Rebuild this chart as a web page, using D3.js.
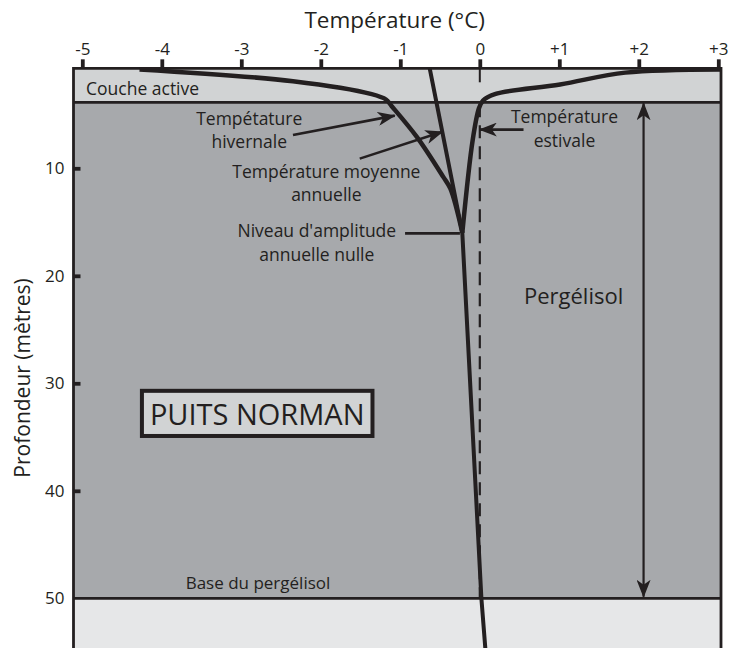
<!DOCTYPE html>
<html>
<head>
<meta charset="utf-8">
<script src="https://cdn.jsdelivr.net/npm/d3@7"></script>
<style>
  body { margin: 0; background: #fff; }
  text { font-family: "Open Sans", "Noto Sans", sans-serif; fill: #231f20; }
</style>
</head>
<body>
<svg id="chart" width="729" height="648"></svg>
<script>
// Temperature ticks along the top
const tempTicks = [-5, -4, -3, -2, -1, 0, 1, 2, 3];
const depthTicks = [10, 20, 30, 40, 50];

// Layers (depth in metres)
const layerNames = ["Couche active", "Pergélisol", "Sous le pergélisol"];
const layerTop = [0.7, 3.86, 50];
const layerBottom = [3.86, 50, 54.7];
const layerFill = ["#d1d3d4", "#a7a9ac", "#e6e7e8"];

// Temperature profiles (°C vs depth m)
const winterT = [-4.28, -2.35, -1.36, -1.18, -1.11, -0.79, -0.46, -0.37, -0.22];
const winterDepth = [0.8, 1.9, 3.1, 3.6, 4.2, 7.1, 10.8, 11.9, 16.0];
const summerT = [3.03, 1.83, 1.01, 0.19, 0.04, -0.01, -0.09, -0.22];
const summerDepth = [0.8, 1.1, 2.2, 3.1, 3.7, 4.4, 7.4, 16.0];
const meanT = [-0.63, -0.22, 0.02, 0.07];
const meanDepth = [0.7, 16.0, 50, 54.7];

const svg = d3.select("#chart");
const ink = "#231f20";

const x = d3.scaleLinear().domain([-5, 3]).range([82.3, 718.3]);
const y = d3.scaleLinear().domain([10, 50]).range([168.3, 598.3]);
const frameLeft = 73.5, frameRight = 721;

// Layers
svg.selectAll("rect.layer")
  .data(layerNames)
  .enter()
  .append("rect")
  .attr("class", "layer")
  .attr("x", frameLeft)
  .attr("y", (d, i) => y(layerTop[i]))
  .attr("width", frameRight - frameLeft)
  .attr("height", (d, i) => y(layerBottom[i]) - y(layerTop[i]))
  .attr("fill", (d, i) => layerFill[i]);

// horizontal boundaries
svg.selectAll("line.bound")
  .data([layerTop[0], layerTop[1], layerTop[2]])
  .enter()
  .append("line")
  .attr("x1", frameLeft).attr("x2", frameRight)
  .attr("y1", d => y(d)).attr("y2", d => y(d))
  .attr("stroke", ink).attr("stroke-width", 2.8);

// vertical frame
[frameLeft, frameRight].forEach(fx => {
  svg.append("line")
    .attr("x1", fx).attr("x2", fx)
    .attr("y1", y(layerTop[0]) - 1.4).attr("y2", 648)
    .attr("stroke", ink).attr("stroke-width", 2.8);
});

// Top axis
const xAxis = d3.axisTop(x)
  .tickValues(tempTicks)
  .tickSize(9)
  .tickPadding(4)
  .tickFormat(d => d > 0 ? "+" + d : d < 0 ? "-" + Math.abs(d) : "0");

const gx = svg.append("g")
  .attr("transform", "translate(0," + y(layerTop[0]) + ")")
  .call(xAxis);
gx.select(".domain").remove();
gx.selectAll(".tick line").attr("stroke", ink).attr("stroke-width", 3.8);
gx.selectAll(".tick text")
  .attr("fill", ink)
  .style("font-size", "17px")
  .style("font-family", "'Open Sans', sans-serif");

// zero tick reaching into the active layer
svg.append("line")
  .attr("x1", x(0)).attr("x2", x(0))
  .attr("y1", y(layerTop[0])).attr("y2", y(2.0))
  .attr("stroke", ink).attr("stroke-width", 2);

// Left axis (ticks pointing inward)
const yAxis = d3.axisRight(y)
  .tickValues(depthTicks)
  .tickSize(7)
  .tickFormat(d => d);

const gy = svg.append("g")
  .attr("transform", "translate(" + frameLeft + ",0)")
  .call(yAxis);
gy.select(".domain").remove();
gy.selectAll(".tick line").attr("stroke", ink).attr("stroke-width", 3.8)
  .attr("x2", d => d === 50 ? 0 : 7);
gy.selectAll(".tick text")
  .attr("x", -9)
  .attr("text-anchor", "end")
  .attr("fill", ink)
  .style("font-size", "17px")
  .style("font-family", "'Open Sans', sans-serif");

// Axis titles
svg.append("text")
  .attr("x", x(-1.07))
  .attr("y", 28)
  .attr("text-anchor", "middle")
  .style("font-size", "22.5px")
  .text("Température (°C)");

svg.append("text")
  .attr("transform", "translate(30," + y(29.5) + ") rotate(-90)")
  .attr("text-anchor", "middle")
  .style("font-size", "21px")
  .text("Profondeur (mètres)");

// Dashed 0 °C line
svg.append("line")
  .attr("x1", x(0)).attr("x2", x(0))
  .attr("y1", y(layerTop[1]) + 2).attr("y2", y(50))
  .attr("stroke", ink).attr("stroke-width", 2.2)
  .attr("stroke-dasharray", "13,8");

// Profiles
const smooth = d3.line()
  .x(d => x(d[0]))
  .y(d => y(d[1]))
  .curve(d3.curveCatmullRom.alpha(0.5));
const straight = d3.line()
  .x(d => x(d[0]))
  .y(d => y(d[1]));

function drawProfile(gen, ts, ds, w) {
  svg.append("path")
    .attr("d", gen(ts.map((t, i) => [t, ds[i]])))
    .attr("fill", "none")
    .attr("stroke", ink)
    .attr("stroke-width", w)
    .attr("stroke-linejoin", "round");
}
drawProfile(smooth, winterT, winterDepth, 4.5);
drawProfile(smooth, summerT, summerDepth, 4.5);
drawProfile(straight, meanT, meanDepth, 4);

// Arrowhead marker
const defs = svg.append("defs");
defs.append("marker")
  .attr("id", "head")
  .attr("viewBox", "0 0 18 14")
  .attr("refX", 17).attr("refY", 7)
  .attr("markerWidth", 18).attr("markerHeight", 14)
  .attr("markerUnits", "userSpaceOnUse")
  .attr("orient", "auto-start-reverse")
  .append("path")
  .attr("d", "M0,0 L18,7 L0,14 L5,7 Z")
  .attr("fill", ink);

// Annotations: label lines, text position (T, depth), connector from/to
const notes = [
  {lines: ["Tempétature", "hivernale"], t: -2.9, d: 5.97, from: [-2.35, 6.9], to: [-1.07, 5.1], head: true},
  {lines: ["Température moyenne", "annuelle"], t: -1.93, d: 10.9, from: [-1.51, 9.1], to: [-0.47, 6.6], head: true},
  {lines: ["Température", "estivale"], t: 1.065, d: 5.79, from: [0.55, 6.4], to: [0.0, 6.4], head: true},
  {lines: ["Niveau d'amplitude", "annuelle nulle"], t: -2.05, d: 16.42, from: [-0.94, 16.05], to: [-0.25, 16.05], head: false}
];

notes.forEach(n => {
  const tx = svg.append("text")
    .attr("x", x(n.t))
    .attr("y", y(n.d))
    .attr("text-anchor", "middle")
    .style("font-size", "17.5px");
  n.lines.forEach((l, i) => {
    tx.append("tspan").attr("x", x(n.t)).attr("dy", i === 0 ? 0 : 23.5).text(l);
  });
  const ln = svg.append("line")
    .attr("x1", x(n.from[0])).attr("y1", y(n.from[1]))
    .attr("x2", x(n.to[0])).attr("y2", y(n.to[1]))
    .attr("stroke", ink).attr("stroke-width", 2.6);
  if (n.head) ln.attr("marker-end", "url(#head)");
});

// Layer labels
svg.append("text")
  .attr("x", 86).attr("y", y(3.18))
  .style("font-size", "17.5px")
  .text(layerNames[0]);

svg.append("text")
  .attr("x", x(-2.79)).attr("y", y(49.13))
  .attr("text-anchor", "middle")
  .style("font-size", "17px")
  .text("Base du pergélisol");

// Permafrost thickness arrow
svg.append("line")
  .attr("x1", x(2.06)).attr("x2", x(2.06))
  .attr("y1", y(layerBottom[0]) + 1).attr("y2", y(layerBottom[1]) - 1.5)
  .attr("stroke", ink).attr("stroke-width", 2.2)
  .attr("marker-start", "url(#head)")
  .attr("marker-end", "url(#head)");

svg.append("text")
  .attr("x", x(1.18)).attr("y", y(22.6))
  .attr("text-anchor", "middle")
  .style("font-size", "22px")
  .text(layerNames[1]);

// Site label box
const boxG = svg.append("g");
boxG.append("rect")
  .attr("x", x(-4.25)).attr("y", y(30.7))
  .attr("width", x(-1.35) - x(-4.25))
  .attr("height", y(34.9) - y(30.7))
  .attr("fill", layerFill[0])
  .attr("stroke", ink).attr("stroke-width", 4);
boxG.append("text")
  .attr("x", (x(-4.25) + x(-1.35)) / 2)
  .attr("y", y(33.9))
  .attr("text-anchor", "middle")
  .style("font-size", "29px")
  .text("PUITS NORMAN");
</script>
</body>
</html>
